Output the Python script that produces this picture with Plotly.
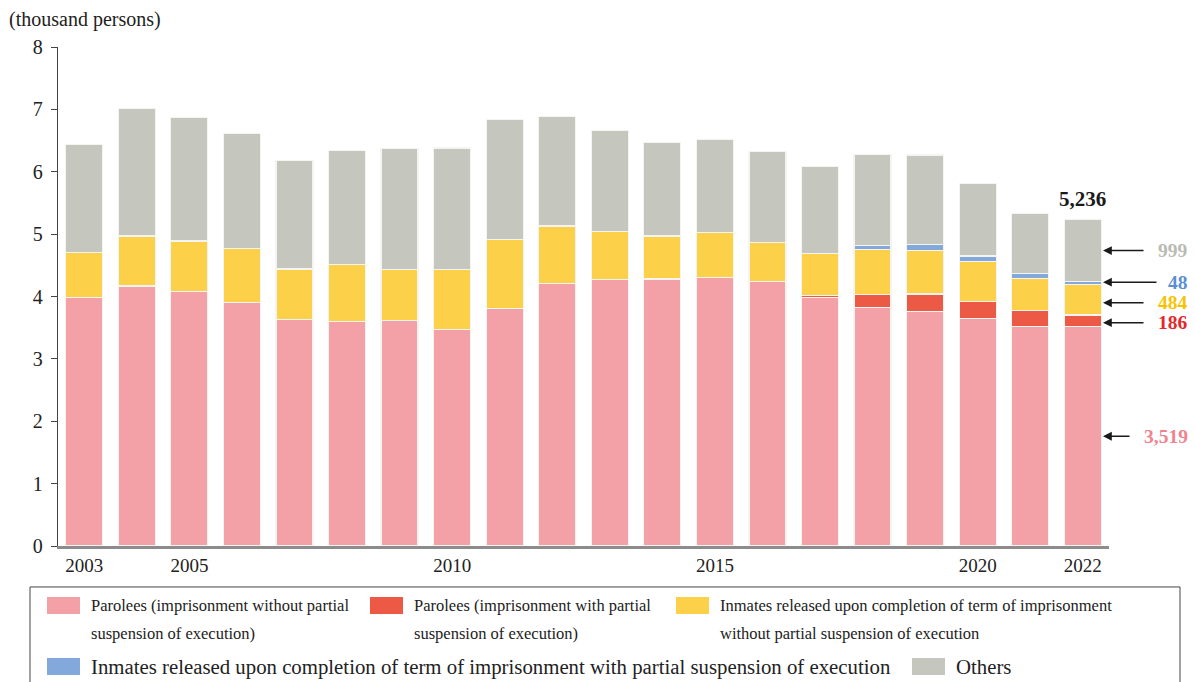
import plotly.graph_objects as go

years = list(range(2003, 2023))
# values in thousand persons
parolees_wo = [3.98, 4.17, 4.08, 3.91, 3.63, 3.60, 3.61, 3.47, 3.81, 4.21,
               4.27, 4.28, 4.31, 4.24, 3.98, 3.83, 3.76, 3.65, 3.52, 3.519]
parolees_w = [0, 0, 0, 0, 0, 0, 0, 0, 0, 0,
              0, 0, 0, 0, 0.03, 0.20, 0.28, 0.27, 0.26, 0.186]
released_wo = [0.72, 0.80, 0.81, 0.86, 0.81, 0.91, 0.82, 0.96, 1.10, 0.92,
               0.77, 0.69, 0.72, 0.63, 0.68, 0.73, 0.70, 0.64, 0.51, 0.484]
released_w = [0, 0, 0, 0, 0, 0, 0, 0, 0, 0,
              0, 0, 0, 0, 0, 0.06, 0.09, 0.09, 0.08, 0.048]
others = [1.74, 2.05, 1.98, 1.84, 1.74, 1.83, 1.94, 1.95, 1.93, 1.76,
          1.62, 1.50, 1.49, 1.45, 1.40, 1.46, 1.44, 1.16, 0.96, 0.999]

series_names = [
    "Parolees (imprisonment without partial suspension of execution)",
    "Parolees (imprisonment with partial suspension of execution)",
    "Inmates released upon completion of term of imprisonment without partial suspension of execution",
    "Inmates released upon completion of term of imprisonment with partial suspension of execution",
    "Others",
]
series = [parolees_wo, parolees_w, released_wo, released_w, others]
colors = ["#f4a0a7", "#ec5a45", "#fdd04a", "#82a8dc", "#c5c7be"]
label_colors = ["#f2838e", "#e8262a", "#f7c300", "#5b8fd4", "#b9bcb2"]
last_labels = ["3,519", "186", "484", "48", "999"]
total_label = "5,236"
xtick_vals = [2003, 2005, 2010, 2015, 2020, 2022]
ytick_vals = list(range(0, 9))

FONT = "Liberation Serif"
W, H = 1195, 682
L, R_px, T, B_px = 58, 1109, 46.7, 546

fig = go.Figure()
for name, vals, col in zip(series_names, series, colors):
    fig.add_trace(go.Bar(x=years, y=vals, name=name, marker_color=col,
                         marker_line_color="#f4f4f0", marker_line_width=1.2,
                         showlegend=False))


def px(x):
    return (x - L) / (R_px - L)


def py(y):
    return (B_px - y) / (B_px - T)


ann = []
shapes = []

# total label above last bar
total_last = sum(s[-1] for s in series)
ann.append(dict(x=years[-1], y=total_last, xref="x", yref="y", text="<b>%s</b>" % total_label,
                showarrow=False, yanchor="bottom", yshift=6,
                font=dict(family=FONT, size=21, color="#1a1a1a")))

# arrows + labels for last year segments
tails = [28, 42, 42, 55, 42]
shifts = [0, -2, -3, 1, 0]
cum = 0
for i, s in enumerate(series):
    mid = cum + s[-1] / 2
    cum += s[-1]
    ann.append(dict(x=px(1103), y=mid, xref="paper", yref="y", text="",
                    showarrow=True, ax=tails[i], ay=0, axref="pixel", ayref="pixel",
                    yshift=shifts[i],
                    arrowhead=2, arrowsize=1.1, arrowwidth=1.6, arrowcolor="#1a1a1a"))
    ann.append(dict(x=px(1189), y=mid, xref="paper", yref="y", yshift=shifts[i],
                    text="<b>%s</b>" % last_labels[i], showarrow=False,
                    xanchor="right", yanchor="middle", borderpad=0,
                    font=dict(family=FONT, size=19.5, color=label_colors[i])))

# unit label
ann.append(dict(x=px(7), y=py(19), xref="paper", yref="paper", text="(thousand persons)",
                showarrow=False, xanchor="left", yanchor="middle",
                font=dict(family=FONT, size=20, color="#222")))

# legend box
shapes.append(dict(type="rect", xref="paper", yref="paper",
                   x0=px(30), x1=px(1180), y0=py(587), y1=py(700),
                   line=dict(color="#444", width=1), fillcolor="rgba(0,0,0,0)"))

legend_items = [
    (0, 47, 597, ["Parolees (imprisonment without partial", "suspension of execution)"], 16.5),
    (1, 370, 597, ["Parolees (imprisonment with partial", "suspension of execution)"], 16.5),
    (2, 676, 597, ["Inmates released upon completion of term of imprisonment",
                   "without partial suspension of execution"], 16.5),
    (3, 47, 658, [series_names[3]], 20.8),
    (4, 912, 658, [series_names[4]], 20.8),
]
for idx, sx, sy, lines, fs in legend_items:
    shapes.append(dict(type="rect", xref="paper", yref="paper",
                       x0=px(sx), x1=px(sx + 33), y0=py(sy), y1=py(sy + 17),
                       line=dict(width=0), fillcolor=colors[idx]))
    for j, line in enumerate(lines):
        ann.append(dict(x=px(sx + 42), y=py(sy + 9 + 28 * j), xref="paper", yref="paper",
                        text=line, showarrow=False, xanchor="left", yanchor="middle",
                        font=dict(family=FONT, size=fs, color="#222")))

fig.update_layout(
    width=W, height=H,
    margin=dict(l=L, r=W - R_px, t=T, b=H - B_px, pad=0),
    barmode="stack", bargap=0.296,
    plot_bgcolor="white", paper_bgcolor="white",
    font=dict(family=FONT, color="#222"),
    annotations=ann, shapes=shapes,
    xaxis=dict(range=[2002.5, 2022.5], tickmode="array", tickvals=xtick_vals,
               ticktext=[str(v) for v in xtick_vals], showgrid=False, zeroline=False,
               showline=True, linecolor="#8c8c8c", linewidth=2.5, ticks="",
               tickfont=dict(family=FONT, size=19, color="#222"), ticklabelstandoff=0),
    yaxis=dict(range=[0, 8], tickvals=ytick_vals, showgrid=False, zeroline=False,
               showline=True, linecolor="#444", linewidth=1.3, ticks="outside",
               ticklen=6, tickcolor="#444", tickwidth=1.3,
               tickfont=dict(family=FONT, size=20, color="#222"), ticklabelstandoff=4),
)

fig.write_html("out.html", config={"displayModeBar": False},
               post_script="document.body.style.margin='0';document.body.style.overflow='hidden';")
